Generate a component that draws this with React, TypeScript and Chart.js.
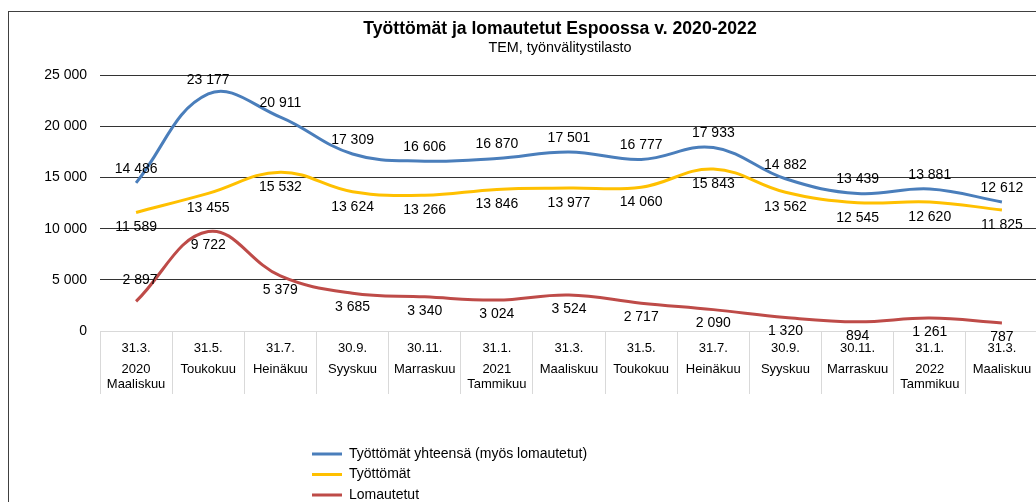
import React, { useEffect, useRef } from 'react';
import { Chart, registerables } from 'chart.js';

Chart.register(...registerables);

// ---- data ----
const dateLabels = ['31.3.', '31.5.', '31.7.', '30.9.', '30.11.', '31.1.', '31.3.', '31.5.', '31.7.', '30.9.', '30.11.', '31.1.', '31.3.'];
const yearLabels = ['2020', '', '', '', '', '2021', '', '', '', '', '', '2022', ''];
const monthLabels = ['Maaliskuu', 'Toukokuu', 'Heinäkuu', 'Syyskuu', 'Marraskuu', 'Tammikuu', 'Maaliskuu', 'Toukokuu', 'Heinäkuu', 'Syyskuu', 'Marraskuu', 'Tammikuu', 'Maaliskuu'];

const yhteensa = [14486, 23177, 20911, 17309, 16606, 16870, 17501, 16777, 17933, 14882, 13439, 13881, 12612];
const tyottomat = [11589, 13455, 15532, 13624, 13266, 13846, 13977, 14060, 15843, 13562, 12545, 12620, 11825];
const lomautetut = [2897, 9722, 5379, 3685, 3340, 3024, 3524, 2717, 2090, 1320, 894, 1261, 787];

const seriesNames = ['Työttömät yhteensä (myös lomautetut)', 'Työttömät', 'Lomautetut'];
const titleText = 'Työttömät ja lomautetut Espoossa v. 2020-2022';
const subtitleText = 'TEM, työnvälitystilasto';
const yMin = 0;
const yMax = 25000;
const yStep = 5000;

// ---- styling ----
const FONT = "'Liberation Sans', Arial, Helvetica, sans-serif";
const COLORS = ['#4A7EBB', '#FFC000', '#BE4B48'];

const fmt = (n: number) => String(Math.round(n)).replace(/\B(?=(\d{3})+(?!\d))/g, ' ');

// multi-level category labels (date / year / month) using spacer lines
const categoryLabels = dateLabels.map((d, i) =>
  yearLabels[i] ? [d, '', '', yearLabels[i], '', monthLabels[i]] : [d, '', '', monthLabels[i]]
);

const labelStyle = [
  { dy: -14 },
  { dy: 15 },
  { dy: 14, aboveAt: [0], dyAbove: -21, dxAbove: 4 },
];

const valueLabelsPlugin = {
  id: 'valueLabels',
  afterDatasetsDraw(chart: any) {
    const ctx = chart.ctx;
    ctx.save();
    ctx.font = `14px ${FONT}`;
    ctx.fillStyle = '#000';
    ctx.textAlign = 'center';
    ctx.textBaseline = 'middle';
    chart.data.datasets.forEach((ds: any, di: number) => {
      const meta = chart.getDatasetMeta(di);
      const st: any = labelStyle[di];
      meta.data.forEach((pt: any, i: number) => {
        const v = ds.data[i];
        let dx = 0;
        let dy = st.dy;
        if (st.aboveAt && st.aboveAt.includes(i)) {
          dy = st.dyAbove;
          dx = st.dxAbove || 0;
        }
        ctx.fillText(fmt(v), pt.x + dx, pt.y + dy);
      });
    });
    ctx.restore();
  },
};

const LEGEND_PAD = 6.5;
// places the legend as a single column below the axis, and centres the titles over the frame
const layoutTweaks = {
  id: 'layoutTweaks',
  afterLayout(chart: any) {
    const l = chart.legend;
    if (l) {
      l.left = 303 - LEGEND_PAD;
      l.right = l.left + 600;
      l.top = 428.5;
      l.bottom = l.top + 62;
      l.width = l.right - l.left;
      l.height = l.bottom - l.top;
    }
    chart.boxes.forEach((b: any) => {
      if (b && b.options && typeof b.options.text === 'string' && b.options.text.length) {
        b.left = 73;
        b.right = 1029;
        b.width = b.right - b.left;
      }
    });
  },
};

export default function App() {
  const ref = useRef<HTMLCanvasElement>(null);

  useEffect(() => {
    const canvas = ref.current;
    if (!canvas) return;
    const chart = new Chart(canvas, {
      type: 'line',
      data: {
        labels: categoryLabels,
        datasets: [
          { label: seriesNames[0], data: yhteensa, borderColor: COLORS[0], backgroundColor: COLORS[0], borderWidth: 3, pointRadius: 0, tension: 0.4, fill: false },
          { label: seriesNames[1], data: tyottomat, borderColor: COLORS[1], backgroundColor: COLORS[1], borderWidth: 3, pointRadius: 0, tension: 0.4, fill: false },
          { label: seriesNames[2], data: lomautetut, borderColor: COLORS[2], backgroundColor: COLORS[2], borderWidth: 3, pointRadius: 0, tension: 0.4, fill: false },
        ],
      },
      options: {
        responsive: false,
        animation: false,
        devicePixelRatio: 1,
        layout: { padding: { left: 0, right: 73, top: 0, bottom: 40 } },
        plugins: {
          title: {
            display: true,
            text: titleText,
            color: '#000',
            font: { family: FONT, size: 17.6, weight: 'bold', lineHeight: 1.2 },
            padding: { top: 6.5, bottom: 0 },
          },
          subtitle: {
            display: true,
            text: subtitleText,
            color: '#000',
            font: { family: FONT, size: 14.4, lineHeight: 1.2 },
            padding: { top: 0, bottom: 18.4 },
          },
          legend: {
            display: true,
            position: 'bottom',
            align: 'start',
            labels: {
              usePointStyle: true,
              pointStyle: 'line',
              pointStyleWidth: 30,
              color: '#000',
              font: { family: FONT, size: 14 },
              padding: LEGEND_PAD,
              generateLabels: (ch: any) =>
                Chart.defaults.plugins.legend.labels.generateLabels(ch).map((it: any) => ({
                  ...it,
                  text: String(it.text).padEnd(80, '\u00a0'),
                })),
            },
          },
          tooltip: { enabled: false },
        },
        scales: {
          x: {
            type: 'category',
            offset: true,
            grid: { offset: true, display: true, drawOnChartArea: false, drawTicks: true, tickLength: 63, color: '#d9d9d9', lineWidth: 1 },
            border: { display: true, color: '#d9d9d9', width: 1 },
            ticks: {
              autoSkip: false,
              maxRotation: 0,
              minRotation: 0,
              padding: -49.6,
              color: '#000',
              font: { family: FONT, size: 13, lineHeight: 7.2 / 13 },
            },
            afterFit: (s: any) => { s.height = 80; },
          },
          y: {
            min: yMin,
            max: yMax,
            ticks: {
              stepSize: yStep,
              padding: 13,
              color: '#000',
              font: { family: FONT, size: 14 },
              callback: (v: any) => fmt(Number(v)),
            },
            grid: {
              drawTicks: false,
              lineWidth: 1,
              color: (c: any) => (c.tick && c.tick.value === 0 ? '#d9d9d9' : '#333333'),
            },
            border: { display: false },
            afterFit: (s: any) => { s.width = 91; },
          },
        },
      },
      plugins: [valueLabelsPlugin, layoutTweaks],
    } as any);
    return () => chart.destroy();
  }, []);

  return (
    <div style={{ position: 'fixed', left: 0, top: 0, width: 1036, height: 502, overflow: 'hidden', background: '#fff' }}>
      <div
        style={{
          position: 'absolute',
          left: 8,
          top: 11,
          width: 1300,
          height: 700,
          borderLeft: '1px solid #404040',
          borderTop: '1px solid #404040',
        }}
      />
      <canvas
        ref={ref}
        width={1102}
        height={490}
        style={{ position: 'absolute', left: 9, top: 12, width: 1102, height: 490 }}
      />
    </div>
  );
}
